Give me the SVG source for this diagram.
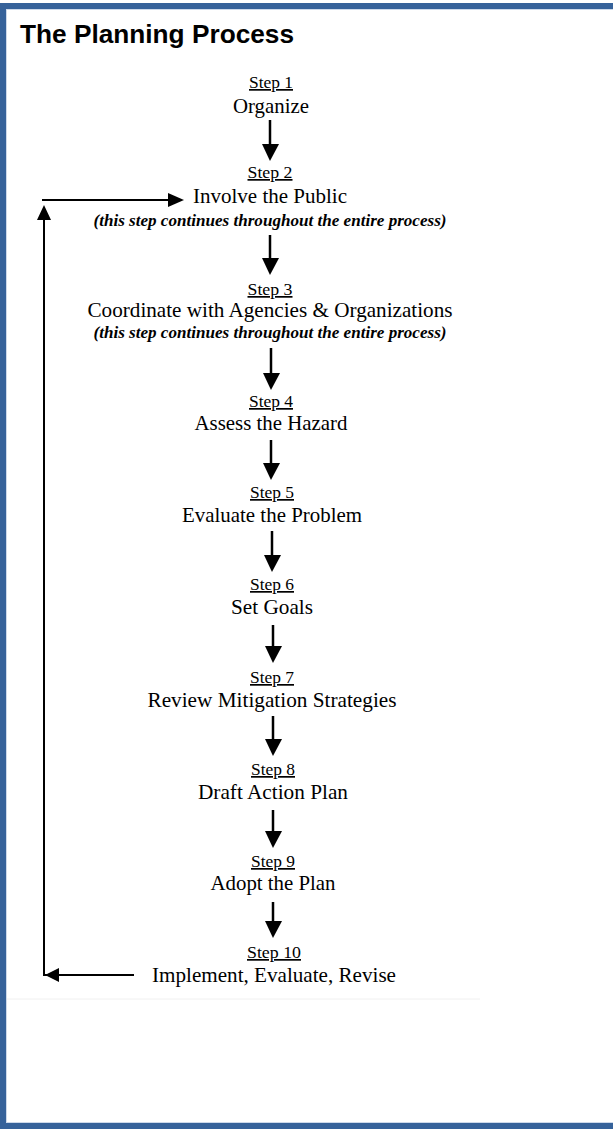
<svg xmlns="http://www.w3.org/2000/svg" width="613" height="1130" viewBox="0 0 613 1130">
<defs>
<style>
.title{font-family:"Liberation Sans",Arial,sans-serif;font-weight:bold;font-size:25px;fill:#000}
.step{font-family:"Liberation Serif","Times New Roman",serif;font-size:17px;fill:#000;text-anchor:middle;text-decoration:underline}
.lbl{font-family:"Liberation Serif","Times New Roman",serif;font-size:22px;fill:#000;text-anchor:middle}
.note{font-family:"Liberation Serif","Times New Roman",serif;font-size:16px;font-weight:bold;font-style:italic;fill:#000;text-anchor:middle}
.arr{stroke:#000;stroke-width:2.5;fill:none}
.loop{stroke:#000;stroke-width:2;fill:none}
.head{fill:#000;stroke:none}
</style>
</defs>
<rect x="0" y="0" width="613" height="1130" fill="#fff"/>
<rect x="3" y="6" width="620" height="1120" fill="none" stroke="#36629a" stroke-width="6"/>
<rect x="6.5" y="9.5" width="620" height="1113" fill="none" stroke="#cdd9ea" stroke-width="1"/>
<line x1="7" y1="999" x2="480" y2="999" stroke="#f0f0f0" stroke-width="1"/>
<text class="title" x="20" y="43" textLength="274" lengthAdjust="spacingAndGlyphs">The Planning Process</text>

<g id="step1"><text class="step" x="271" y="88" textLength="44" lengthAdjust="spacingAndGlyphs">Step 1</text><text class="lbl" x="271" y="113" textLength="76" lengthAdjust="spacingAndGlyphs">Organize</text></g>
<g id="step2"><text class="step" x="270" y="178" textLength="45" lengthAdjust="spacingAndGlyphs">Step 2</text><text class="lbl" x="270" y="203" textLength="154" lengthAdjust="spacingAndGlyphs">Involve the Public</text><text class="note" x="270" y="226" textLength="353" lengthAdjust="spacingAndGlyphs">(this step continues throughout the entire process)</text></g>
<g id="step3"><text class="step" x="270" y="295" textLength="45" lengthAdjust="spacingAndGlyphs">Step 3</text><text class="lbl" x="270" y="317" textLength="365" lengthAdjust="spacingAndGlyphs">Coordinate with Agencies &amp; Organizations</text><text class="note" x="270" y="338" textLength="353" lengthAdjust="spacingAndGlyphs">(this step continues throughout the entire process)</text></g>
<g id="step4"><text class="step" x="271" y="407" textLength="44" lengthAdjust="spacingAndGlyphs">Step 4</text><text class="lbl" x="271" y="430" textLength="153" lengthAdjust="spacingAndGlyphs">Assess the Hazard</text></g>
<g id="step5"><text class="step" x="272" y="498" textLength="44" lengthAdjust="spacingAndGlyphs">Step 5</text><text class="lbl" x="272" y="522" textLength="180" lengthAdjust="spacingAndGlyphs">Evaluate the Problem</text></g>
<g id="step6"><text class="step" x="272" y="590" textLength="44" lengthAdjust="spacingAndGlyphs">Step 6</text><text class="lbl" x="272" y="614" textLength="82" lengthAdjust="spacingAndGlyphs">Set Goals</text></g>
<g id="step7"><text class="step" x="272" y="683" textLength="44" lengthAdjust="spacingAndGlyphs">Step 7</text><text class="lbl" x="272" y="707" textLength="249" lengthAdjust="spacingAndGlyphs">Review Mitigation Strategies</text></g>
<g id="step8"><text class="step" x="273" y="775" textLength="44" lengthAdjust="spacingAndGlyphs">Step 8</text><text class="lbl" x="273" y="799" textLength="150" lengthAdjust="spacingAndGlyphs">Draft Action Plan</text></g>
<g id="step9"><text class="step" x="273" y="867" textLength="44" lengthAdjust="spacingAndGlyphs">Step 9</text><text class="lbl" x="273" y="890" textLength="125" lengthAdjust="spacingAndGlyphs">Adopt the Plan</text></g>
<g id="step10"><text class="step" x="274" y="958" textLength="54" lengthAdjust="spacingAndGlyphs">Step 10</text><text class="lbl" x="274" y="982" textLength="244" lengthAdjust="spacingAndGlyphs">Implement, Evaluate, Revise</text></g>

<g id="connectors">
<line class="arr" x1="270" y1="120" x2="270" y2="145"/><polygon class="head" points="262,144 279,144 270,161"/>
<line class="arr" x1="270" y1="235" x2="270" y2="259"/><polygon class="head" points="262,258 279,258 270,275"/>
<line class="arr" x1="271" y1="348" x2="271" y2="374"/><polygon class="head" points="263,373 280,373 271,390"/>
<line class="arr" x1="271" y1="440" x2="271" y2="464"/><polygon class="head" points="263,463 280,463 271,480"/>
<line class="arr" x1="272" y1="531" x2="272" y2="556"/><polygon class="head" points="264,555 281,555 272,572"/>
<line class="arr" x1="273" y1="625" x2="273" y2="647"/><polygon class="head" points="265,646 282,646 273,663"/>
<line class="arr" x1="273" y1="716" x2="273" y2="740"/><polygon class="head" points="265,739 282,739 273,756"/>
<line class="arr" x1="273" y1="810" x2="273" y2="832"/><polygon class="head" points="265,831 282,831 273,848"/>
<line class="arr" x1="273" y1="902" x2="273" y2="922"/><polygon class="head" points="265,921 282,921 273,938"/>
<polyline class="loop" points="134,975 44,975 44,218"/>
<polygon class="head" points="59,968 59,982 45,975"/>
<polygon class="head" points="37,220 51,220 44,205"/>
<line class="loop" x1="42" y1="200" x2="170" y2="200"/>
<polygon class="head" points="168,193 168,207 184,200"/>
</g>
</svg>
